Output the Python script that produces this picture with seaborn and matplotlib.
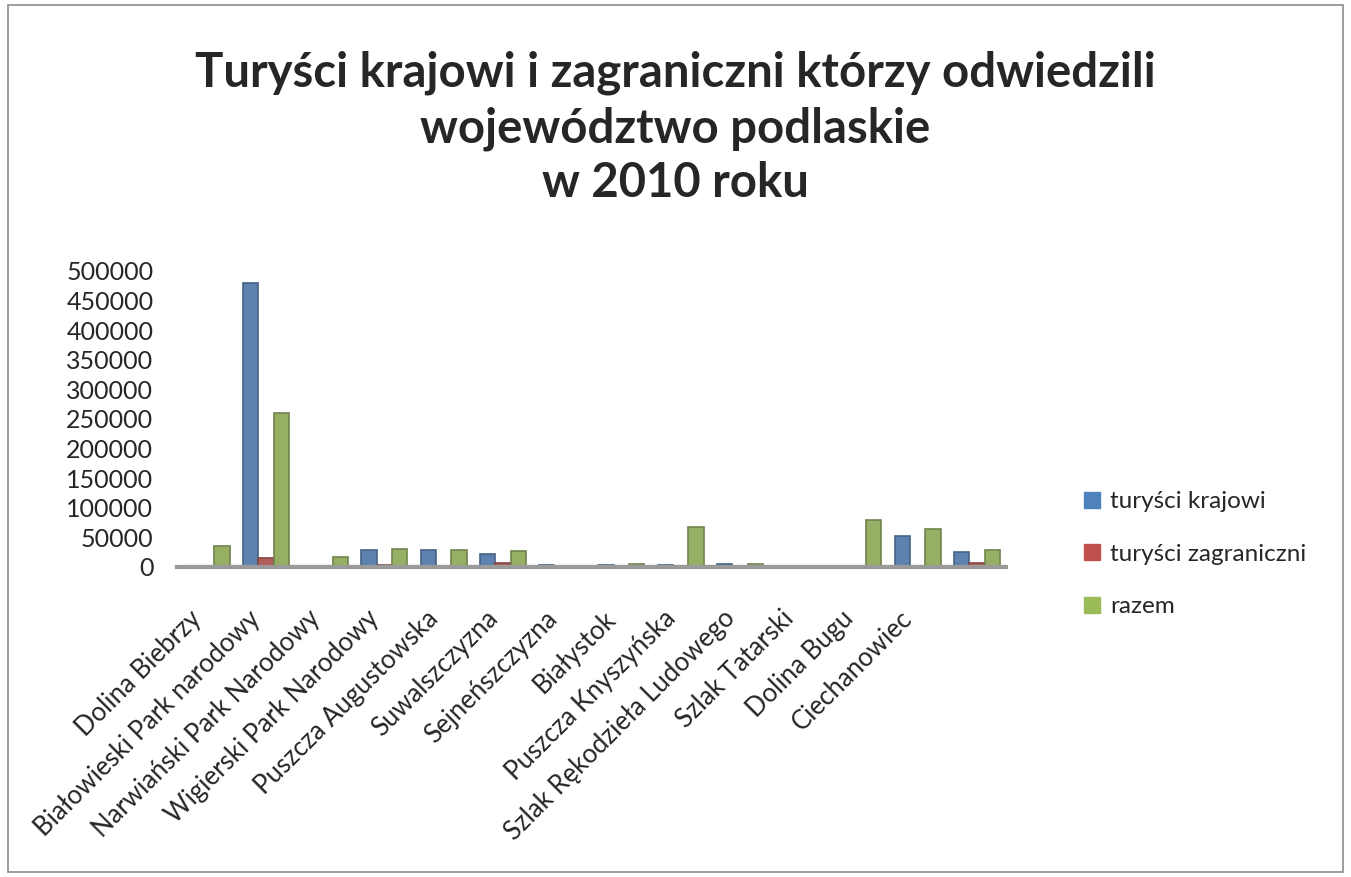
import pandas as pd
import matplotlib
matplotlib.use("Agg")
import matplotlib.pyplot as plt
import matplotlib.patches as mpatches
import matplotlib.transforms as mtransforms
import seaborn as sns

# dane
miejsca = ['Dolina Biebrzy', 'Białowieski Park narodowy', 'Narwiański Park Narodowy',
           'Wigierski Park Narodowy', 'Puszcza Augustowska', 'Suwalszczyzna',
           'Sejneńszczyzna', 'Białystok', 'Puszcza Knyszyńska',
           'Szlak Rękodzieła Ludowego', 'Szlak Tatarski', 'Dolina Bugu',
           'Ciechanowiec', '']
krajowi = [1500, 480000, 1000, 29000, 28000, 22000, 3000, 4000, 3000, 5000, 500, 800, 53000, 25000]
zagraniczni = [800, 15000, 600, 3000, 2000, 6000, 1000, 2000, 1000, 1000, 300, 600, 2000, 6000]
razem = [35000, 260000, 17000, 30000, 28000, 27000, 2000, 5000, 68000, 5000, 1500, 80000, 65000, 28000]
serie = ['turyści krajowi', 'turyści zagraniczni', 'razem']
kolory = ['#4F81BD', '#C0504D', '#9BBB59']

rows = []
for i, m in enumerate(miejsca):
    rows.append((i, serie[0], krajowi[i]))
    rows.append((i, serie[1], zagraniczni[i]))
    rows.append((i, serie[2], razem[i]))
df = pd.DataFrame(rows, columns=['idx', 'Seria', 'Liczba'])

sns.set_style('white')
plt.rcParams['font.family'] = ['Lato', 'DejaVu Sans']

fig = plt.figure(figsize=(13.51, 8.77), dpi=100)
ax = fig.add_axes([0.131, 0.3535, 0.614, 0.3375])

sns.barplot(data=df, x='idx', y='Liczba', hue='Seria', hue_order=serie,
            palette=kolory, width=0.78, ax=ax, legend=False)
for bar in ax.patches:
    fc = bar.get_facecolor()
    bar.set_edgecolor(tuple(c * 0.75 for c in fc[:3]) + (1,))
    bar.set_linewidth(1.2)

ax.set_ylim(0, 500000)
ax.set_xlim(-0.5, len(miejsca) - 0.5)
ax.set_yticks(range(0, 500001, 50000))
ax.set_yticklabels([str(v) for v in range(0, 500001, 50000)], fontsize=18)
ax.set_xticks(range(len(miejsca)))
ax.set_xticklabels(miejsca, rotation=45, ha='right', rotation_mode='anchor', fontsize=18.5)
ax.tick_params(axis='y', length=0, pad=17)
ax.tick_params(axis='x', length=0, pad=28)
przesun = mtransforms.ScaledTranslation(-18 / 100, 0, fig.dpi_scale_trans)
for lab in ax.get_xticklabels():
    lab.set_transform(lab.get_transform() + przesun)
ax.set_xlabel('')
ax.set_ylabel('')
for s in ['top', 'right', 'left']:
    ax.spines[s].set_visible(False)
ax.spines['bottom'].set_color('#9a9a9a')
ax.spines['bottom'].set_linewidth(3)
ax.axhline(4000, color='#d9d9d9', lw=1, zorder=0)

uchwyty = [plt.Line2D([], [], marker='s', ls='', color=k, markersize=11) for k in kolory]
fig.legend(uchwyty, serie, loc='center left', bbox_to_anchor=(0.785, 0.368),
           frameon=False, fontsize=17.5, labelspacing=1.3, handletextpad=0.35,
           handlelength=0.8)

fig.text(0.5, 0.854, 'Turyści krajowi i zagraniczni którzy odwiedzili\nwojewództwo podlaskie\nw 2010 roku',
         ha='center', va='center', fontsize=34, fontweight='bold', linespacing=1.3)

fig.patches.append(mpatches.Rectangle((0.006, 0.006), 0.988, 0.988, transform=fig.transFigure,
                                      fill=False, edgecolor='#8c8c8c', lw=1.2))

fig.savefig('out.png', dpi=100)
